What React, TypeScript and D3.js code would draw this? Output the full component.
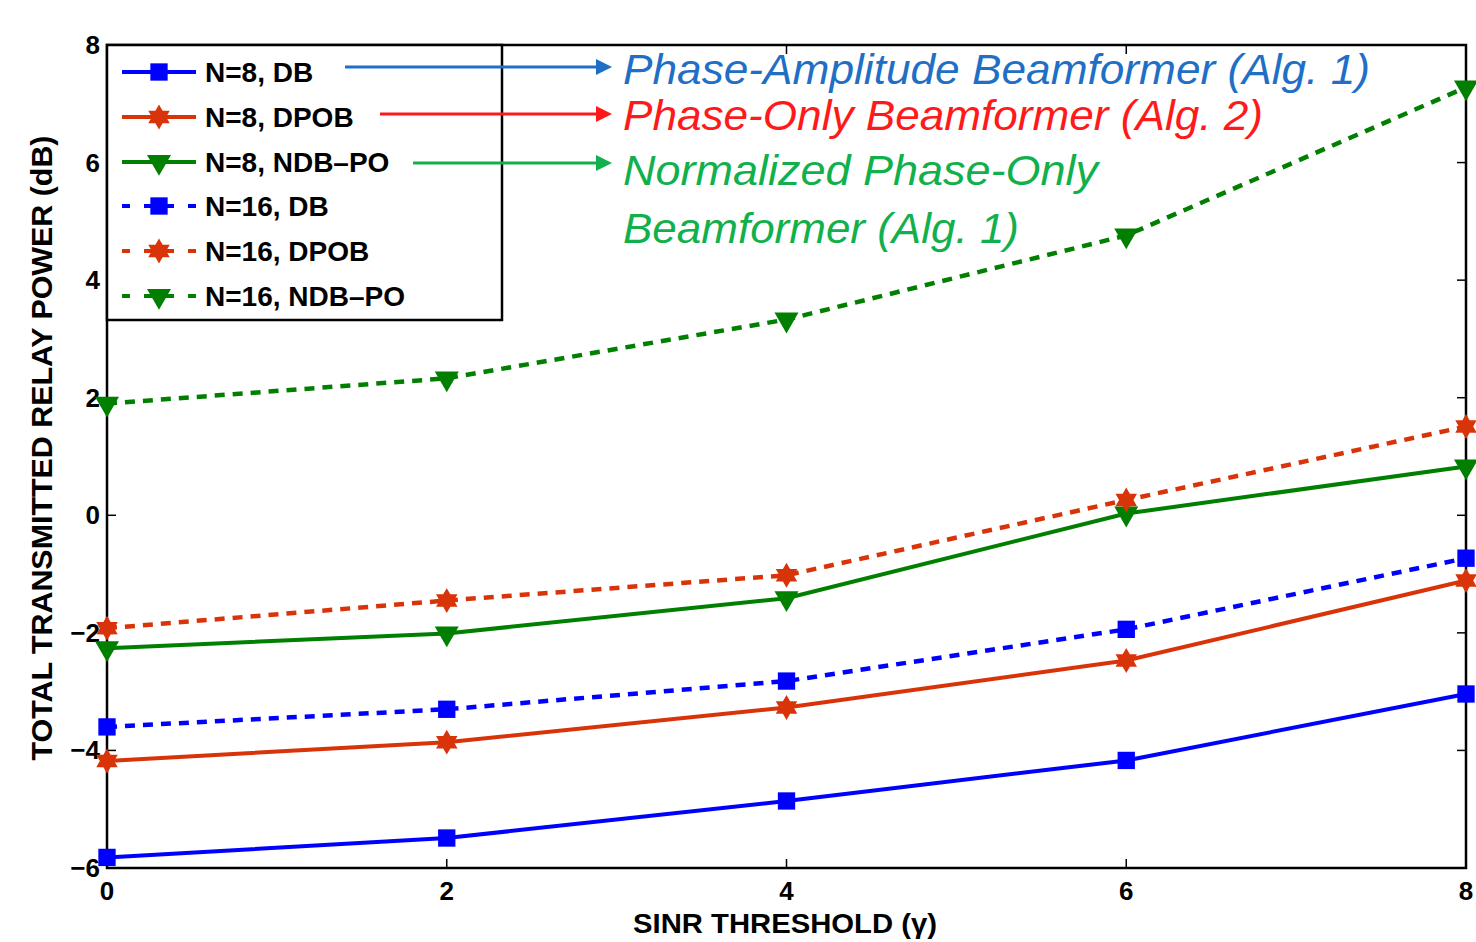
import React, {useEffect, useRef} from 'react';
import * as d3 from 'd3';

// SINR threshold values (x)
const sinrValues = [0, 2, 4, 6, 8];

// Total transmitted relay power (dB)
const n8DB = [-5.82, -5.49, -4.86, -4.17, -3.04];
const n8DPOB = [-4.18, -3.86, -3.27, -2.47, -1.11];
const n8NDBPO = [-2.26, -2.01, -1.41, 0.03, 0.83];
const n16DB = [-3.6, -3.3, -2.82, -1.94, -0.73];
const n16DPOB = [-1.92, -1.45, -1.02, 0.26, 1.51];
const n16NDBPO = [1.9, 2.33, 3.33, 4.76, 7.28];

const xTicks = [0, 2, 4, 6, 8];
const yTicks = [-6, -4, -2, 0, 2, 4, 6, 8];

const seriesNames = ['N=8, DB', 'N=8, DPOB', 'N=8, NDB\u2013PO', 'N=16, DB', 'N=16, DPOB', 'N=16, NDB\u2013PO'];

const annotations = [
    {lines: ['Phase-Amplitude Beamformer (Alg. 1)'], color: '#1f6fc6', from: 345, widths: [747]},
    {lines: ['Phase-Only Beamformer (Alg. 2)'], color: '#ff1a1a', from: 380, widths: [640]},
    {lines: ['Normalized Phase-Only', 'Beamformer (Alg. 1)'], color: '#12b04c', from: 413, widths: [475, 396]},
];

// six pointed star (matlab 'h' marker)
const hexagram = {
    draw(context, size) {
        let R = Math.sqrt(size) * 0.62;
        let r = R * 0.58;
        for (let i = 0; i < 12; i++) {
            let rad = i % 2 === 0 ? R : r;
            let a = -Math.PI / 2 + i * Math.PI / 6;
            let px = rad * Math.cos(a), py = rad * Math.sin(a);
            if (i === 0) context.moveTo(px, py); else context.lineTo(px, py);
        }
        context.closePath();
    }
};

export default function App() {
    const svgRef = useRef(null);

    let svgWidth = 1476,
        svgHeight = 942;

    let plot = {left: 107, right: 1466, top: 45, bottom: 868};

    useEffect(() => {
        let svg = d3.select(svgRef.current);
        svg.selectAll('*').remove();

        let x = d3.scaleLinear().domain([0, 8]).range([plot.left, plot.right]);
        let y = d3.scaleLinear().domain([-6, 8]).range([plot.bottom, plot.top]);

        let blue = '#0000ff', red = '#d9330a', green = '#007f00';
        let series = [
            {values: n8DB, color: blue, marker: 'square', dashed: false},
            {values: n8DPOB, color: red, marker: 'star', dashed: false},
            {values: n8NDBPO, color: green, marker: 'tri', dashed: false},
            {values: n16DB, color: blue, marker: 'square', dashed: true},
            {values: n16DPOB, color: red, marker: 'star', dashed: true},
            {values: n16NDBPO, color: green, marker: 'tri', dashed: true},
        ];

        let tickFont = '"Liberation Sans Narrow", "Arial Narrow", Arial, sans-serif';

        let markerPath = (m) => {
            if (m === 'square') return d3.symbol().type(d3.symbolSquare).size(300)();
            if (m === 'star') return d3.symbol().type(hexagram).size(400)();
            return d3.symbol().type(d3.symbolTriangle).size(250)();
        };
        let drawMarker = (g, m, cx, cy, color) => {
            g.append('path')
                .attr('d', markerPath(m))
                .attr('transform', `translate(${cx},${cy})` + (m === 'tri' ? ' rotate(180)' : ''))
                .attr('fill', color);
        };

        // axes box
        svg.append('rect')
            .attr('x', plot.left).attr('y', plot.top)
            .attr('width', plot.right - plot.left).attr('height', plot.bottom - plot.top)
            .attr('fill', 'none').attr('stroke', '#000').attr('stroke-width', 2.5);

        // inward ticks
        let tickLen = 9;
        let ticks = svg.append('g').attr('stroke', '#000').attr('stroke-width', 1.5);
        xTicks.forEach(t => {
            ticks.append('line').attr('x1', x(t)).attr('x2', x(t)).attr('y1', plot.bottom).attr('y2', plot.bottom - tickLen);
            ticks.append('line').attr('x1', x(t)).attr('x2', x(t)).attr('y1', plot.top).attr('y2', plot.top + tickLen);
        });
        yTicks.forEach(t => {
            ticks.append('line').attr('y1', y(t)).attr('y2', y(t)).attr('x1', plot.left).attr('x2', plot.left + tickLen);
            ticks.append('line').attr('y1', y(t)).attr('y2', y(t)).attr('x1', plot.right).attr('x2', plot.right - tickLen);
        });

        // tick labels
        svg.append('g').selectAll('text').data(xTicks).enter().append('text')
            .attr('x', d => x(d)).attr('y', plot.bottom + 32)
            .attr('text-anchor', 'middle')
            .style('font-family', tickFont).style('font-weight', 'bold').style('font-size', '26px')
            .text(d => d);
        svg.append('g').selectAll('text').data(yTicks).enter().append('text')
            .attr('x', plot.left - 7).attr('y', d => y(d) + 9)
            .attr('text-anchor', 'end')
            .style('font-family', tickFont).style('font-weight', 'bold').style('font-size', '26px')
            .text(d => d < 0 ? '\u2212' + Math.abs(d) : d);

        // axis titles
        svg.append('text')
            .attr('x', 785).attr('y', 933)
            .attr('text-anchor', 'middle')
            .attr('textLength', 304).attr('lengthAdjust', 'spacingAndGlyphs')
            .style('font-family', tickFont).style('font-weight', 'bold').style('font-size', '28px')
            .text('SINR THRESHOLD (\u03b3)');
        svg.append('text')
            .attr('transform', `translate(52,448) rotate(-90)`)
            .attr('text-anchor', 'middle')
            .attr('textLength', 625).attr('lengthAdjust', 'spacingAndGlyphs')
            .style('font-family', tickFont).style('font-weight', 'bold').style('font-size', '29px')
            .text('TOTAL TRANSMITTED RELAY POWER (dB)');

        // data lines
        let line = d3.line()
            .x((d, i) => x(sinrValues[i]))
            .y(d => y(d));

        series.forEach(s => {
            svg.append('path')
                .datum(s.values)
                .attr('d', line)
                .attr('fill', 'none')
                .attr('stroke', s.color)
                .attr('stroke-width', s.dashed ? 4.5 : 4)
                .style('stroke-dasharray', s.dashed ? '10,8' : null);
            let mg = svg.append('g');
            s.values.forEach((v, i) => drawMarker(mg, s.marker, x(sinrValues[i]), y(v), s.color));
        });

        // legend
        let legend = svg.append('g');
        legend.append('rect')
            .attr('x', plot.left).attr('y', plot.top)
            .attr('width', 395).attr('height', 275)
            .attr('fill', '#fff').attr('stroke', '#000').attr('stroke-width', 2.5);
        let rowY = [72, 117, 162, 206, 251, 296];
        series.forEach((s, i) => {
            legend.append('line')
                .attr('x1', 122).attr('x2', 196).attr('y1', rowY[i]).attr('y2', rowY[i])
                .attr('stroke', s.color).attr('stroke-width', 4)
                .style('stroke-dasharray', s.dashed ? '8,14' : null);
            drawMarker(legend, s.marker, 159, rowY[i], s.color);
            legend.append('text')
                .attr('x', 205).attr('y', rowY[i] + 10)
                .style('font-family', 'Arial, "Liberation Sans", sans-serif')
                .style('font-weight', 'bold').style('font-size', '28px')
                .text(seriesNames[i]);
        });

        // annotation arrows + labels
        let arrowY = [67, 114, 163];
        let textY = [[84], [130], [185, 243]];
        annotations.forEach((a, i) => {
            let g = svg.append('g');
            g.append('line')
                .attr('x1', a.from).attr('x2', 598).attr('y1', arrowY[i]).attr('y2', arrowY[i])
                .attr('stroke', a.color).attr('stroke-width', 3);
            g.append('path')
                .attr('d', `M596,${arrowY[i] - 8} L612,${arrowY[i]} L596,${arrowY[i] + 8} Z`)
                .attr('fill', a.color);
            a.lines.forEach((t, j) => {
                g.append('text')
                    .attr('x', 623).attr('y', textY[i][j])
                    .attr('textLength', a.widths[j]).attr('lengthAdjust', 'spacingAndGlyphs')
                    .style('font-family', '"Liberation Sans Narrow", "Arial Narrow", Arial, sans-serif')
                    .style('font-style', 'italic').style('font-size', '42px')
                    .attr('fill', a.color)
                    .text(t);
            });
        });
    });

    return (
        <div>
            <svg ref={svgRef} width={svgWidth} height={svgHeight}
                 style={{position: 'absolute', left: 0, top: 0, background: '#fff'}}/>
        </div>
    );
}
